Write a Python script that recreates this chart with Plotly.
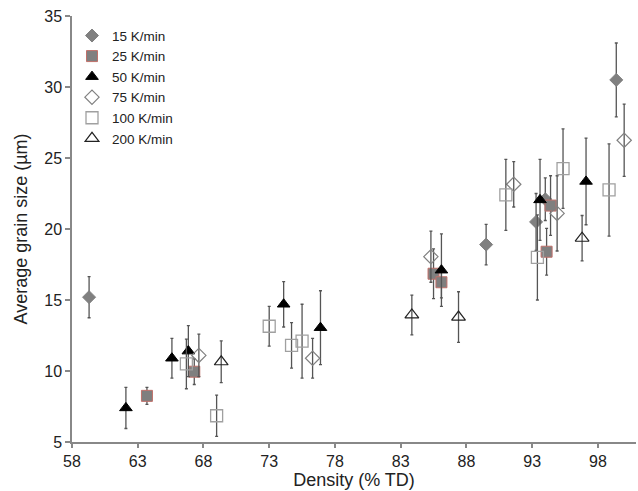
import plotly.graph_objects as go

# Heating-rate series: density (% TD), average grain size (µm) and its std. deviation
rate_labels = ["15 K/min", "25 K/min", "50 K/min", "75 K/min", "100 K/min", "200 K/min"]

density_15 = [59.3, 89.5, 93.3, 94.0, 99.4]
grain_15 = [15.2, 18.9, 20.5, 22.1, 30.5]
err_15 = [1.45, 1.43, 2.0, 1.5, 2.6]

density_25 = [63.7, 67.3, 85.5, 86.1, 94.1, 94.4]
grain_25 = [8.25, 9.95, 16.85, 16.25, 18.4, 21.65]
err_25 = [0.6, 0.9, 1.75, 1.1, 1.65, 2.1]

density_50 = [62.1, 65.6, 66.85, 74.1, 76.9, 86.1, 93.6, 97.1]
grain_50 = [7.4, 10.9, 11.4, 14.7, 13.05, 17.1, 22.05, 23.35]
err_50 = [1.45, 1.4, 1.8, 1.6, 2.6, 2.55, 2.85, 3.05]

density_75 = [67.65, 76.3, 85.3, 91.6, 94.9, 100.0]
grain_75 = [11.1, 10.9, 18.05, 23.15, 21.1, 26.25]
err_75 = [1.5, 1.4, 1.8, 1.6, 2.65, 2.55]

density_100 = [66.7, 69.0, 73.0, 74.7, 75.5, 91.0, 93.4, 95.35, 98.85]
grain_100 = [10.5, 6.85, 13.15, 11.8, 12.1, 22.4, 18.0, 24.25, 22.75]
err_100 = [1.75, 1.45, 1.4, 1.6, 2.6, 2.5, 3.0, 2.8, 3.25]

density_200 = [69.35, 83.85, 87.4, 96.8]
grain_200 = [10.65, 13.95, 13.8, 19.35]
err_200 = [1.47, 1.4, 1.78, 1.6]

x_ticks = [58, 63, 68, 73, 78, 83, 88, 93, 98]
y_ticks = [5, 10, 15, 20, 25, 30, 35]

series = [
    (density_15, grain_15, err_15, dict(symbol="diamond", size=10, color="#808080",
                                         line=dict(color="#808080", width=1))),
    (density_25, grain_25, err_25, dict(symbol="square", size=11, color="#7f7f7f",
                                         line=dict(color="#c0706a", width=1))),
    (density_50, grain_50, err_50, dict(symbol="triangle-up", size=11, color="#000000",
                                         line=dict(color="#000000", width=1))),
    (density_75, grain_75, err_75, dict(symbol="diamond-open", size=11, color="#808080",
                                         line=dict(color="#808080", width=1.2))),
    (density_100, grain_100, err_100, dict(symbol="square-open", size=12, color="#a0a0a0",
                                           line=dict(color="#a0a0a0", width=1.3))),
    (density_200, grain_200, err_200, dict(symbol="triangle-up-open", size=12, color="#222222",
                                           line=dict(color="#222222", width=1.2))),
]

fig = go.Figure()
for label, (xs, ys, es, marker) in zip(rate_labels, series):
    fig.add_trace(go.Scatter(
        x=xs, y=ys, mode="markers", name=label, marker=marker,
        error_y=dict(type="data", array=es, visible=True, color="#555555",
                     thickness=1.3, width=1.5),
    ))

axis_font = dict(family="Arial, Liberation Sans, sans-serif", size=16, color="#222222")

fig.update_layout(
    width=638, height=491,
    margin=dict(l=72, r=2, t=16, b=49),
    paper_bgcolor="white", plot_bgcolor="white",
    font=axis_font,
    showlegend=True,
    legend=dict(x=0.0, y=0.99, xanchor="left", yanchor="top",
                bgcolor="rgba(0,0,0,0)", font=dict(size=13.5, color="#222222"),
                itemwidth=30, tracegroupgap=0),
)
fig.update_xaxes(
    range=[58, 100.9], tickvals=x_ticks, ticktext=[str(v) for v in x_ticks],
    showgrid=False, zeroline=False, showline=True, linecolor="#888888", linewidth=1.5,
    ticks="outside", ticklen=4, tickcolor="#888888", tickwidth=1.5,
    title=dict(text="Density (% TD)", font=dict(size=18), standoff=4),
)
fig.update_yaxes(
    range=[5, 35], tickvals=y_ticks, ticktext=[str(v) for v in y_ticks],
    showgrid=False, zeroline=False, showline=True, linecolor="#888888", linewidth=1.5,
    ticks="outside", ticklen=5, tickcolor="#888888", tickwidth=1.5,
    title=dict(text="Average grain size (µm)", font=dict(size=18), standoff=12),
)

fig.write_html("out.html")
